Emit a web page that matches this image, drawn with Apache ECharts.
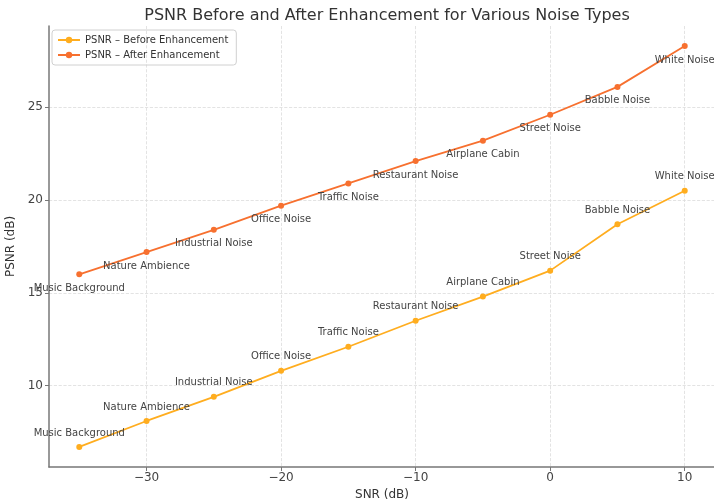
<!DOCTYPE html>
<html>
<head>
<meta charset="utf-8">
<script src="https://cdn.jsdelivr.net/npm/echarts@6/dist/echarts.min.js"></script>
<style>html,body{margin:0;padding:0;background:#fff}#c{width:714px;height:501px}</style>
</head>
<body>
<div id="c"></div>
<script>
const snr = [-35, -30, -25, -20, -15, -10, -5, 0, 5, 10];
const noiseTypes = ['Music Background', 'Nature Ambience', 'Industrial Noise', 'Office Noise', 'Traffic Noise', 'Restaurant Noise', 'Airplane Cabin', 'Street Noise', 'Babble Noise', 'White Noise'];
const psnrBefore = [6.7, 8.1, 9.4, 10.8, 12.1, 13.5, 14.8, 16.2, 18.7, 20.5];
const psnrAfter = [16.0, 17.2, 18.4, 19.7, 20.9, 22.1, 23.2, 24.6, 26.1, 28.3];
const xTicks = [-30, -20, -10, 0, 10];
const yTicks = [10, 15, 20, 25];

const font = 'DejaVu Sans';
const fmtMinus = v => String(v).replace('-', '\u2212');
const chart = echarts.init(document.getElementById('c'));
function mk(name, vals, color, pos) {
  return {
    name: name, type: 'line',
    data: snr.map((x, i) => [x, vals[i]]),
    symbol: 'circle', symbolSize: 6,
    lineStyle: {color: color, width: 1.8},
    itemStyle: {color: color},
    label: {show: true, position: pos, distance: 6, fontFamily: font, fontSize: 10, color: '#444',
      formatter: p => noiseTypes[p.dataIndex]},
    labelLayout: {hideOverlap: false},
    emphasis: {disabled: true}, animation: false
  };
}
chart.setOption({
  animation: false,
  title: {text: 'PSNR Before and After Enhancement for Various Noise Types', left: 382, textAlign: 'center', top: 3,
    textStyle: {fontFamily: font, fontSize: 16, fontWeight: 'normal', color: '#333'}},
  legend: {orient: 'vertical', left: 52, top: 30, itemWidth: 22, itemHeight: 8, itemGap: 5,
    borderColor: '#d0d0d0', borderWidth: 1, borderRadius: 3, padding: [5, 8, 5, 5],
    textStyle: {fontFamily: font, fontSize: 10, color: '#333'},
    data: ['PSNR \u2013 Before Enhancement', 'PSNR \u2013 After Enhancement']},
  grid: {left: 49, right: -1, top: 26, bottom: 34, containLabel: false, outerBoundsMode: 'none'},
  xAxis: {type: 'value', min: -37.25, max: 12.25,
    name: 'SNR (dB)', nameLocation: 'middle', nameGap: 19,
    nameTextStyle: {fontFamily: font, fontSize: 12, color: '#333'},
    axisLine: {show: true, onZero: false, lineStyle: {color: '#777', width: 1.5}},
    axisTick: {show: true, length: 4, lineStyle: {color: '#777'}, customValues: xTicks},
    axisLabel: {fontFamily: font, fontSize: 12, color: '#444', margin: 5, customValues: xTicks, formatter: fmtMinus},
    splitLine: {show: true, lineStyle: {color: '#dcdcdc', type: 'dashed', width: 0.8}}},
  yAxis: {type: 'value', min: 5.62, max: 29.38,
    name: 'PSNR (dB)', nameLocation: 'middle', nameGap: 18, nameRotate: 90,
    nameTextStyle: {fontFamily: font, fontSize: 12, color: '#333'},
    axisLine: {show: true, onZero: false, lineStyle: {color: '#777', width: 1.5}},
    axisTick: {show: true, length: 4, lineStyle: {color: '#777'}, customValues: yTicks},
    axisLabel: {fontFamily: font, fontSize: 12, color: '#444', margin: 6, customValues: yTicks},
    splitLine: {show: true, lineStyle: {color: '#dcdcdc', type: 'dashed', width: 0.8}}},
  series: [
    mk('PSNR \u2013 Before Enhancement', psnrBefore, '#ffad1f', 'top'),
    mk('PSNR \u2013 After Enhancement', psnrAfter, '#f7702f', 'bottom')
  ]
});
</script>
</body>
</html>
